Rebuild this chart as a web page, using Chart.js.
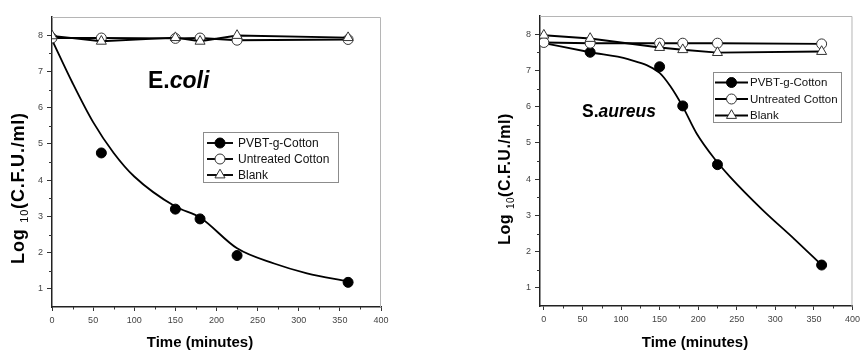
<!DOCTYPE html>
<html>
<head>
<meta charset="utf-8">
<script src="https://cdn.jsdelivr.net/npm/chart.js@4/dist/chart.umd.min.js"></script>
<style>
  html, body { margin: 0; padding: 0; background: #fff; }
  #wrap { position: relative; width: 864px; height: 350px; overflow: hidden; }
  canvas { position: absolute; top: 0; }
  #ecoli { left: 0; }
  #saureus { left: 432px; }
</style>
</head>
<body>
<div id="wrap">
  <canvas id="ecoli" width="432" height="350"></canvas>
  <canvas id="saureus" width="432" height="350"></canvas>
</div>
<script>
const FONT = '"Liberation Sans", Arial, Helvetica, sans-serif';

// Sampling times (minutes)
const times = [0, 60, 150, 180, 225, 360];

// E. coli — Log10 CFU/ml
const ecoliPvbtTimes = [60, 150, 180, 225, 360];
const ecoliPvbt      = [4.75, 3.2, 2.93, 1.92, 1.18];
const ecoliUntreated = [7.92, 7.92, 7.91, 7.92, 7.86, 7.88];
const ecoliBlank     = [7.98, 7.83, 7.93, 7.83, 7.99, 7.93];
// fitted kill curve for PVBT-g-Cotton
const ecoliFitTimes  = [0, 25, 50, 75, 100, 150, 180, 225, 270, 310, 360];
const ecoliFit       = [7.87, 6.68, 5.6, 4.75, 4.1, 3.27, 2.97, 2.12, 1.7, 1.43, 1.2];

// S. aureus — Log10 CFU/ml
const saureusPvbtTimes = [60, 150, 180, 225, 360];
const saureusPvbt      = [7.5, 7.1, 6.02, 4.4, 1.63];
const saureusUntreated = [7.77, 7.75, 7.75, 7.75, 7.75, 7.73];
const saureusBlank     = [7.97, 7.88, 7.63, 7.57, 7.49, 7.52];
const saureusFitTimes  = [0, 60, 109, 150, 164, 180, 198, 222, 241, 283, 325, 360];
const saureusFit       = [7.75, 7.5, 7.31, 6.93, 6.56, 6.0, 5.26, 4.54, 4.07, 3.16, 2.34, 1.63];

// Axis ticks
const yTicks = [1, 2, 3, 4, 5, 6, 7, 8];
const xTicks = [0, 50, 100, 150, 200, 250, 300, 350, 400];
const yMinor = [1.5, 2.5, 3.5, 4.5, 5.5, 6.5, 7.5];
const xMinor = [25, 75, 125, 175, 225, 275, 325, 375];

const seriesNames = ['PVBT-g-Cotton', 'Untreated Cotton', 'Blank'];

const pts = (xs, ys) => xs.map((x, i) => ({ x, y: ys[i] }));

const markerStyles = [
  { pointStyle: 'circle',   radius: 5,   fill: '#000', stroke: '#000', bw: 1 },
  { pointStyle: 'circle',   radius: 5,   fill: '#fff', stroke: '#333', bw: 1 },
  { pointStyle: 'triangle', radius: 5.8, fill: '#fff', stroke: '#333', bw: 1 }
];

function pointDataset(label, data, m, order, showLine) {
  return {
    label, data, order, showLine,
    borderColor: '#000', borderWidth: 1.9, tension: 0,
    pointStyle: m.pointStyle, pointRadius: m.radius, pointHoverRadius: m.radius,
    pointBackgroundColor: m.fill, pointBorderColor: m.stroke, pointBorderWidth: m.bw
  };
}

function fitDataset(data) {
  return {
    label: 'fit', data, order: 4, showLine: true,
    borderColor: '#000', borderWidth: 1.8, pointRadius: 0,
    cubicInterpolationMode: 'monotone'
  };
}

// Frame, minor ticks, legend and titles
const decor = {
  id: 'decor',
  afterDraw(chart, args, o) {
    const { ctx, chartArea: a, scales: { x, y } } = chart;
    ctx.save();

    // light frame on top and right
    ctx.strokeStyle = '#b5b5b5';
    ctx.lineWidth = 1;
    ctx.beginPath();
    ctx.moveTo(a.left, a.top + 0.5);
    ctx.lineTo(a.right - 0.5, a.top + 0.5);
    ctx.lineTo(a.right - 0.5, a.bottom);
    ctx.stroke();

    // minor ticks
    ctx.strokeStyle = '#333';
    xMinor.forEach(v => {
      const px = Math.round(x.getPixelForValue(v)) + 0.5;
      ctx.beginPath(); ctx.moveTo(px, a.bottom); ctx.lineTo(px, a.bottom + 2.5); ctx.stroke();
    });
    yMinor.forEach(v => {
      const py = Math.round(y.getPixelForValue(v)) + 0.5;
      ctx.beginPath(); ctx.moveTo(a.left, py); ctx.lineTo(a.left - 3, py); ctx.stroke();
    });

    // legend
    const L = o.legend;
    ctx.fillStyle = '#fff';
    ctx.fillRect(L.x, L.y, L.w, L.h);
    ctx.strokeStyle = '#8c8c8c';
    ctx.strokeRect(L.x + 0.5, L.y + 0.5, L.w - 1, L.h - 1);
    seriesNames.forEach((name, i) => {
      const ry = L.y + L.rows[i];
      const m = markerStyles[i];
      ctx.strokeStyle = '#000';
      ctx.lineWidth = 1.9;
      ctx.beginPath(); ctx.moveTo(L.x + L.lx0, ry); ctx.lineTo(L.x + L.lx1, ry); ctx.stroke();
      ctx.fillStyle = m.fill;
      ctx.strokeStyle = m.stroke;
      ctx.lineWidth = m.bw;
      Chart.helpers.drawPoint(ctx, { pointStyle: m.pointStyle, radius: m.radius, rotation: 0, borderWidth: m.bw },
        L.x + (L.lx0 + L.lx1) / 2, ry);
      ctx.fillStyle = '#111';
      ctx.font = `${L.font}px ${FONT}`;
      ctx.textBaseline = 'middle';
      ctx.textAlign = 'left';
      ctx.fillText(name, L.x + L.tx, ry + 0.5);
    });

    // organism label: upright initial, italic species name
    const T = o.organism;
    ctx.fillStyle = '#000';
    ctx.textBaseline = 'alphabetic';
    ctx.textAlign = 'left';
    ctx.font = `bold ${T.size}px ${FONT}`;
    ctx.fillText(T.head, T.x, T.y);
    const hw = ctx.measureText(T.head).width;
    ctx.font = `italic bold ${T.size}px ${FONT}`;
    ctx.fillText(T.tail, T.x + hw, T.y);

    // x-axis title
    ctx.font = `bold ${o.xTitle.size}px ${FONT}`;
    ctx.textAlign = 'center';
    ctx.fillText('Time (minutes)', o.xTitle.x, o.xTitle.y);

    // y-axis title with subscript
    const Y = o.yTitle;
    ctx.translate(Y.x, Y.y);
    ctx.rotate(-Math.PI / 2);
    ctx.textAlign = 'left';
    if ('letterSpacing' in ctx) ctx.letterSpacing = Y.spacing + 'px';
    const big = `bold ${Y.size}px ${FONT}`;
    const small = `${Y.sub}px ${FONT}`;
    const parts = [['Log ', big, 0], ['10', small, Y.size * 0.22], ['(C.F.U./ml)', big, 0]];
    let total = 0;
    const widths = parts.map(p => { ctx.font = p[1]; const w = ctx.measureText(p[0]).width; total += w; return w; });
    let cx = -total / 2;
    parts.forEach((p, i) => {
      ctx.font = p[1];
      ctx.fillText(p[0], cx, p[2]);
      cx += widths[i];
    });
    ctx.restore();
  }
};

function makeChart(id, datasets, cfg) {
  return new Chart(document.getElementById(id), {
    type: 'line',
    data: { datasets },
    plugins: [decor],
    options: {
      responsive: false,
      animation: false,
      events: [],
      layout: { padding: cfg.padding },
      plugins: {
        legend: { display: false },
        tooltip: { enabled: false },
        decor: cfg.decor
      },
      scales: {
        x: {
          type: 'linear', min: cfg.xMin, max: 400,
          afterBuildTicks: s => { s.ticks = xTicks.map(v => ({ value: v })); },
          afterFit: s => { s.height = cfg.xHeight; },
          ticks: { color: '#444', font: { family: FONT, size: 9 }, padding: 4, maxRotation: 0 },
          grid: { drawOnChartArea: false, drawTicks: true, tickLength: 4, color: '#333', lineWidth: 1 },
          border: { display: true, color: '#222', width: 1.5 }
        },
        y: {
          type: 'linear', min: 0.5, max: 8.5,
          afterBuildTicks: s => { s.ticks = yTicks.map(v => ({ value: v })); },
          afterFit: s => { s.width = cfg.yWidth; },
          ticks: { color: '#444', font: { family: FONT, size: 9 }, padding: 4 },
          grid: { drawOnChartArea: false, drawTicks: true, tickLength: 5, color: '#333', lineWidth: 1 },
          border: { display: true, color: '#222', width: 1.5 }
        }
      }
    }
  });
}

makeChart('ecoli', [
  fitDataset(pts(ecoliFitTimes, ecoliFit)),
  pointDataset(seriesNames[0], pts(ecoliPvbtTimes, ecoliPvbt), markerStyles[0], 3, false),
  pointDataset(seriesNames[1], pts(times, ecoliUntreated), markerStyles[1], 2, true),
  pointDataset(seriesNames[2], pts(times, ecoliBlank), markerStyles[2], 1, true)
], {
  padding: { left: 0, right: 51, top: 17, bottom: 0 },
  xMin: 0, xHeight: 43, yWidth: 52,
  decor: {
    legend: { x: 203, y: 132, w: 136, h: 51, rows: [11, 27, 43], lx0: 4, lx1: 30, tx: 35, font: 12 },
    organism: { head: 'E.', tail: 'coli', size: 23, x: 148, y: 88 },
    xTitle: { x: 200, y: 347, size: 15 },
    yTitle: { x: 24, y: 188, size: 18, sub: 11, spacing: 0.8 }
  }
});

makeChart('saureus', [
  fitDataset(pts(saureusFitTimes, saureusFit)),
  pointDataset(seriesNames[0], pts(saureusPvbtTimes, saureusPvbt), markerStyles[0], 3, false),
  pointDataset(seriesNames[1], pts(times, saureusUntreated), markerStyles[1], 2, true),
  pointDataset(seriesNames[2], pts(times, saureusBlank), markerStyles[2], 1, true)
], {
  padding: { left: 0, right: 5, top: 16, bottom: 0 },
  xMin: -5, xHeight: 44, yWidth: 108,
  decor: {
    legend: { x: 281, y: 72, w: 129, h: 51, rows: [10.5, 27, 43.5], lx0: 2, lx1: 35, tx: 37, font: 11.5 },
    organism: { head: 'S.', tail: 'aureus', size: 17.5, x: 150, y: 117 },
    xTitle: { x: 263, y: 347, size: 15 },
    yTitle: { x: 78, y: 179, size: 16, sub: 10, spacing: 0.5 }
  }
});
</script>
</body>
</html>
